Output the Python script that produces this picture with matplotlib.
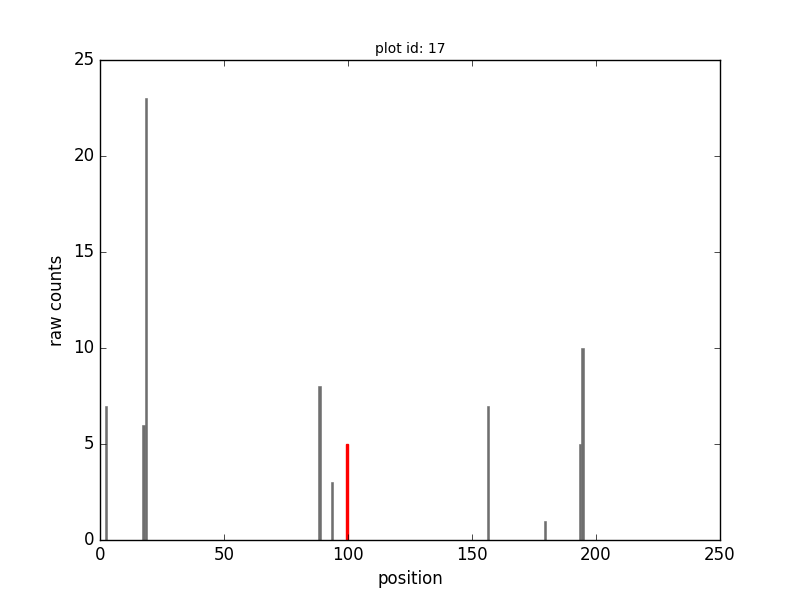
import matplotlib
matplotlib.use("Agg")
import matplotlib.pyplot as plt

plt.style.use("classic")

# bar data: position -> raw count
positions = [2, 17, 18, 88, 93, 156, 179, 193, 194]
counts = [7, 6, 23, 8, 3, 7, 1, 5, 10]
# highlighted position
hl_position = [99]
hl_count = [5]

fig = plt.figure(figsize=(8, 6), dpi=100, facecolor="white")
ax = fig.add_subplot(111)

ax.bar(positions, counts, width=1.0, align="edge",
       color="#6f6f6f", edgecolor="#6f6f6f", linewidth=0.4)
ax.bar(hl_position, hl_count, width=1.0, align="edge",
       color="red", edgecolor="red", linewidth=1.0)

ax.set_xlim(0, 250)
ax.set_ylim(0, 25)
ax.set_xlabel("position")
ax.set_ylabel("raw counts")
ax.set_title("plot id: 17", fontsize=10)

fig.savefig("out.png", dpi=100, facecolor="white")
